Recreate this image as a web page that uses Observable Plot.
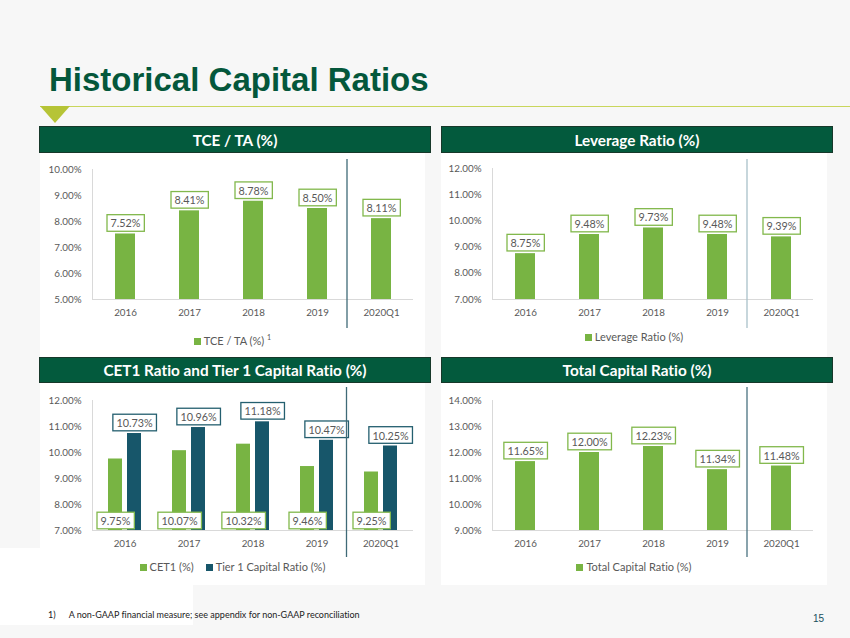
<!DOCTYPE html>
<html>
<head>
<meta charset="utf-8">
<script src="https://cdn.jsdelivr.net/npm/d3@7"></script>
<script src="https://cdn.jsdelivr.net/npm/@observablehq/plot@0.6"></script>
<style>
  html, body { margin: 0; padding: 0; }
  body { width: 850px; height: 638px; background: #f7f7f7; position: relative; overflow: hidden; font-family: Lato, "Open Sans", sans-serif; font-variant-ligatures: none; }
  svg { font-variant-ligatures: none; }
  .abs { position: absolute; }
  .white { background: #ffffff; }
  .title { left: 49px; top: 60px; font-family: "Liberation Sans", Arial, sans-serif; font-weight: bold; font-size: 33px; color: #04573b; line-height: 40px; white-space: nowrap; }
  .rule { left: 40px; top: 105.5px; width: 810px; height: 1.5px; background: #c9d65c; }
  .tri { left: 40px; top: 106px; width: 0; height: 0; border-left: 15px solid transparent; border-right: 15px solid transparent; border-top: 17px solid #b6c436; }
  .hdr { background: #035a3d; color: #ffffff; font-weight: bold; font-size: 15.3px; text-align: center; box-sizing: border-box; border: 1px solid #17382a; display: flex; align-items: center; justify-content: center; }
  .legend { font-size: 11px; color: #595959; text-align: center; white-space: nowrap; line-height: 14px; }
  .legend .item { display: inline-block; margin: 0 6px; }
  .legend .sw { display: inline-block; width: 7px; height: 7px; margin-right: 3px; vertical-align: 0px; }
  .legend sup { font-size: 7px; }
  .foot { font-size: 9px; color: #222; white-space: nowrap; }
  .pnum { font-family: "Liberation Sans", Arial, sans-serif; font-size: 10px; color: #17505d; }
</style>
</head>
<body>
<!-- background panels -->
<div class="abs white" style="left:40px;top:153px;width:385px;height:204px"></div>
<div class="abs white" style="left:441px;top:153px;width:386px;height:204px"></div>
<div class="abs white" style="left:40px;top:383px;width:385px;height:202px"></div>
<div class="abs white" style="left:441px;top:383px;width:386px;height:202px"></div>
<div class="abs white" style="left:0px;top:548px;width:425px;height:37px"></div>
<div class="abs white" style="left:0px;top:585px;width:193px;height:40px"></div>

<div class="abs title" id="title"></div>
<div class="abs rule"></div>
<div class="abs tri"></div>

<div class="abs hdr" id="h0" style="left:39px;top:126px;width:392px;height:27px"></div>
<div class="abs hdr" id="h1" style="left:441px;top:126px;width:392px;height:27px"></div>
<div class="abs hdr" id="h2" style="left:39px;top:357px;width:392px;height:26px"></div>
<div class="abs hdr" id="h3" style="left:441px;top:357px;width:392px;height:26px"></div>

<div class="abs" id="c0" style="left:40px;top:155px"></div>
<div class="abs" id="c1" style="left:441px;top:155px"></div>
<div class="abs" id="c2" style="left:40px;top:385px"></div>
<div class="abs" id="c3" style="left:441px;top:385px"></div>

<div class="abs legend" id="l0" style="left:40px;top:330px;width:385px"></div>
<div class="abs legend" id="l1" style="left:441px;top:330px;width:386px"></div>
<div class="abs legend" id="l2" style="left:40px;top:560px;width:385px"></div>
<div class="abs legend" id="l3" style="left:441px;top:560px;width:386px"></div>

<div class="abs foot" id="fn" style="left:48px;top:609px"></div>
<div class="abs pnum" id="pn" style="left:813px;top:613px"></div>

<script>
// ---------------- data ----------------
const pageTitle = "Historical Capital Ratios";
const panelTitles = ["TCE / TA (%)", "Leverage Ratio (%)", "CET1 Ratio and Tier 1 Capital Ratio (%)", "Total Capital Ratio (%)"];
const years = ["2016", "2017", "2018", "2019", "2020Q1"];
const tceTa = [7.52, 8.41, 8.78, 8.50, 8.11];
const leverageRatio = [8.75, 9.48, 9.73, 9.48, 9.39];
const cet1Ratio = [9.75, 10.07, 10.32, 9.46, 9.25];
const tier1Ratio = [10.73, 10.96, 11.18, 10.47, 10.25];
const totalCapitalRatio = [11.65, 12.00, 12.23, 11.34, 11.48];
const tceTicks = [5, 6, 7, 8, 9, 10];
const leverageTicks = [7, 8, 9, 10, 11, 12];
const cetTicks = [7, 8, 9, 10, 11, 12];
const totalTicks = [9, 10, 11, 12, 13, 14];
const seriesNames = ["TCE / TA (%)", "Leverage Ratio (%)", "CET1 (%)", "Tier 1 Capital Ratio (%)", "Total Capital Ratio (%)"];
const footnoteMark = "1)";
const footnoteText = "A non-GAAP financial measure; see appendix for non-GAAP reconciliation";
const pageNumber = "15";

// ---------------- styles ----------------
const GREEN = "#78b443";
const GREEN_BORDER = "#82b84c";
const TEAL = "#17566a";
const TEAL_BORDER = "#245f6f";
const SVGNS = "http://www.w3.org/2000/svg";

document.getElementById("title").textContent = pageTitle;
panelTitles.forEach((t, i) => document.getElementById("h" + i).textContent = t);
document.getElementById("fn").innerHTML = footnoteMark + '<span style="display:inline-block;width:13px"></span>' + footnoteText;
document.getElementById("pn").textContent = pageNumber;

function legend(id, items, sup) {
  const el = document.getElementById(id);
  el.innerHTML = items.map((it, i) =>
    `<span class="item"><span class="sw" style="background:${it.color}"></span>${it.name}${(sup && i === items.length - 1) ? ' <sup>1</sup>' : ''}</span>`
  ).join("");
}

function build(o) {
  const el = document.getElementById(o.el);
  const domain = [o.ticks[0], o.ticks[o.ticks.length - 1]];
  const pi = o.grouped ? 0.486 : 0.69;
  const marks = [
    Plot.frame({anchor: "left", stroke: "#d9d9d9"}),
    Plot.ruleY([domain[0]], {stroke: "#d9d9d9"})
  ];
  o.series.forEach(s => {
    const data = years.map((y, i) => ({year: y, value: s.values[i]}));
    marks.push(Plot.barY(data, {x: "year", y1: domain[0], y2: "value", fill: s.color,
      insetLeft: s.insetLeft || 0, insetRight: s.insetRight || 0}));
  });
  o.series.forEach(s => {
    const data = years.map((y, i) => ({year: y, value: s.values[i]}));
    marks.push(Plot.text(data, {
      x: "year",
      y: s.base ? (() => domain[0]) : "value",
      text: d => d.value.toFixed(2) + "%",
      lineAnchor: "bottom",
      dy: s.base ? -5.5 : -6.5,
      dx: s.dx || 0,
      fill: "#595959",
      fontSize: 10.8
    }));
  });
  const chart = Plot.plot({
    width: o.width, height: o.height,
    marginLeft: o.ml, marginRight: o.mr, marginTop: o.mt, marginBottom: o.mb,
    style: {fontFamily: "Lato, 'Open Sans', sans-serif", fontSize: "9.8px", color: "#595959", background: "transparent", overflow: "visible"},
    x: {domain: years, paddingInner: pi, paddingOuter: pi / 2, label: null, tickSize: 0, tickPadding: 10},
    y: {domain, ticks: o.ticks, tickFormat: d => d.toFixed(2) + "%", label: null, tickSize: 0, tickPadding: 11},
    marks
  });
  el.appendChild(chart);
  // boxed data labels
  const groups = chart.querySelectorAll('g[aria-label="text"]');
  groups.forEach((g, gi) => {
    const s = o.series[gi];
    g.querySelectorAll("text").forEach(t => {
      const b = t.getBBox();
      const r = document.createElementNS(SVGNS, "rect");
      r.setAttribute("x", b.x - 3.5);
      r.setAttribute("y", b.y - 1.8);
      r.setAttribute("width", b.width + 7);
      r.setAttribute("height", b.height + 3.6);
      r.setAttribute("fill", "#ffffff");
      r.setAttribute("stroke", s.border);
      r.setAttribute("stroke-width", 1.3);
      const tr = t.getAttribute("transform");
      if (tr) r.setAttribute("transform", tr);
      g.insertBefore(r, t);
    });
  });
  // separator between annual and quarterly data
  const xs = chart.scale("x");
  const sx = (xs.apply("2019") + xs.bandwidth + xs.apply("2020Q1")) / 2 - 2;
  d3.select(chart).append("line")
    .attr("x1", sx).attr("x2", sx)
    .attr("y1", o.sepTop).attr("y2", o.sepBottom)
    .attr("stroke", o.sepColor).attr("stroke-width", 1.3);
}

build({el: "c0", width: 385, height: 175, ml: 52, mr: 12, mt: 14, mb: 31, ticks: tceTicks,
  series: [{values: tceTa, color: GREEN, border: GREEN_BORDER}],
  sepColor: "#3f6a77", sepTop: 4, sepBottom: 173});
build({el: "c1", width: 386, height: 175, ml: 51, mr: 14, mt: 13, mb: 31, ticks: leverageTicks,
  series: [{values: leverageRatio, color: GREEN, border: GREEN_BORDER}],
  sepColor: "#a9c1c9", sepTop: 4, sepBottom: 173});
build({el: "c2", width: 385, height: 175, ml: 52, mr: 12, mt: 15, mb: 30, ticks: cetTicks, grouped: true,
  series: [
    {values: cet1Ratio, color: GREEN, border: GREEN_BORDER, insetRight: 19, dx: -9.5, base: true},
    {values: tier1Ratio, color: TEAL, border: TEAL_BORDER, insetLeft: 19, dx: 9.5}
  ],
  sepColor: "#3f6a77", sepTop: 2, sepBottom: 172});
build({el: "c3", width: 386, height: 175, ml: 51, mr: 14, mt: 15, mb: 30, ticks: totalTicks,
  series: [{values: totalCapitalRatio, color: GREEN, border: GREEN_BORDER}],
  sepColor: "#4a7280", sepTop: 2, sepBottom: 172});

legend("l0", [{name: seriesNames[0], color: GREEN}], true);
legend("l1", [{name: seriesNames[1], color: GREEN}]);
legend("l2", [{name: seriesNames[2], color: GREEN}, {name: seriesNames[3], color: TEAL}]);
legend("l3", [{name: seriesNames[4], color: GREEN}]);
</script>
</body>
</html>
